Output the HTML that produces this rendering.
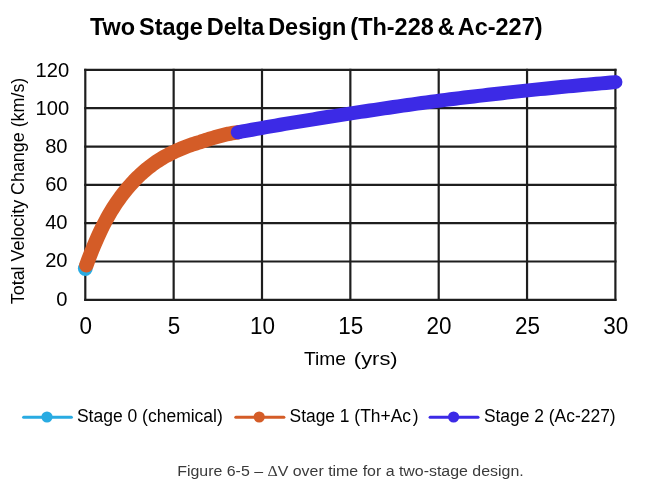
<!DOCTYPE html>
<html><head><meta charset="utf-8"><title>Two Stage Delta Design</title>
<style>
html,body{margin:0;padding:0;background:#fff;}
body{width:649px;height:490px;overflow:hidden;font-family:"Liberation Sans",sans-serif;}
svg{display:block;filter:blur(0.4px)}
text{font-family:"Liberation Sans",sans-serif;fill:#000;}
.yt{font-size:20.2px}
.xt{font-size:22.8px}
.lg{font-size:17.4px}
</style></head><body>
<svg width="649" height="490" viewBox="0 0 649 490">
<rect width="649" height="490" fill="#fff"/>
<text x="89.9" y="34.9" font-size="23.2" font-weight="bold" word-spacing="-2.5" textLength="452.6" lengthAdjust="spacingAndGlyphs">Two Stage Delta Design (Th-228 &amp; Ac-227)</text>
<g stroke="#1e1e1e" stroke-width="2.2" fill="none">
<line x1="85.30" y1="68.80" x2="85.30" y2="300.90"/>
<line x1="173.65" y1="68.80" x2="173.65" y2="300.90"/>
<line x1="262.00" y1="68.80" x2="262.00" y2="300.90"/>
<line x1="350.35" y1="68.80" x2="350.35" y2="300.90"/>
<line x1="438.70" y1="68.80" x2="438.70" y2="300.90"/>
<line x1="527.05" y1="68.80" x2="527.05" y2="300.90"/>
<line x1="615.40" y1="68.80" x2="615.40" y2="300.90"/>
<line x1="84.20" y1="299.80" x2="616.50" y2="299.80"/>
<line x1="84.20" y1="261.48" x2="616.50" y2="261.48"/>
<line x1="84.20" y1="223.17" x2="616.50" y2="223.17"/>
<line x1="84.20" y1="184.85" x2="616.50" y2="184.85"/>
<line x1="84.20" y1="146.53" x2="616.50" y2="146.53"/>
<line x1="84.20" y1="108.22" x2="616.50" y2="108.22"/>
<line x1="84.20" y1="69.90" x2="616.50" y2="69.90"/>
</g>
<g>
<text transform="translate(67.6,305.55) scale(0.97,1)" text-anchor="end" font-size="20.8">0</text>
<text transform="translate(67.6,267.42) scale(0.97,1)" text-anchor="end" font-size="20.8">20</text>
<text transform="translate(67.6,229.28) scale(0.97,1)" text-anchor="end" font-size="20.8">40</text>
<text transform="translate(67.6,191.15) scale(0.97,1)" text-anchor="end" font-size="20.8">60</text>
<text transform="translate(67.6,153.02) scale(0.97,1)" text-anchor="end" font-size="20.8">80</text>
<text transform="translate(69.2,114.88) scale(0.97,1)" text-anchor="end" font-size="20.8">100</text>
<text transform="translate(69.2,76.75) scale(0.97,1)" text-anchor="end" font-size="20.8">120</text>
</g>
<g>
<text transform="translate(85.70,334.0) scale(0.93,1)" text-anchor="middle" font-size="24.2">0</text>
<text transform="translate(174.05,334.0) scale(0.93,1)" text-anchor="middle" font-size="24.2">5</text>
<text transform="translate(262.40,334.0) scale(0.93,1)" text-anchor="middle" font-size="24.2">10</text>
<text transform="translate(350.75,334.0) scale(0.93,1)" text-anchor="middle" font-size="24.2">15</text>
<text transform="translate(439.10,334.0) scale(0.93,1)" text-anchor="middle" font-size="24.2">20</text>
<text transform="translate(527.45,334.0) scale(0.93,1)" text-anchor="middle" font-size="24.2">25</text>
<text transform="translate(615.80,334.0) scale(0.93,1)" text-anchor="middle" font-size="24.2">30</text>
</g>
<text id="ytitle" transform="translate(24.4,304.2) rotate(-90)" font-size="17.5" textLength="226.5" lengthAdjust="spacingAndGlyphs">Total Velocity Change (km/s)</text>
<text x="303.97" y="364.8" font-size="19.0" textLength="42.05" lengthAdjust="spacingAndGlyphs">Time</text>
<text x="353.83" y="364.8" font-size="19.0" textLength="43.82" lengthAdjust="spacingAndGlyphs">(yrs)</text>
<circle cx="85.30" cy="268.59" r="7.4" fill="#29abe2"/>
<path d="M86.36,265.23 L88.25,260.06 L90.15,255.10 L92.04,250.33 L93.93,245.75 L95.82,241.30 L97.72,237.01 L99.61,232.90 L101.50,228.94 L103.40,225.13 L105.29,221.49 L107.18,218.00 L109.07,214.66 L110.97,211.44 L112.86,208.35 L114.75,205.38 L116.65,202.53 L118.54,199.79 L120.43,197.16 L122.33,194.64 L124.22,192.21 L126.11,189.88 L128.00,187.64 L129.90,185.50 L131.79,183.40 L133.68,181.32 L135.58,179.33 L137.47,177.41 L139.36,175.57 L141.25,173.79 L143.15,172.08 L145.04,170.44 L146.93,168.86 L148.83,167.35 L150.72,165.89 L152.61,164.48 L154.50,163.13 L156.40,161.83 L158.29,160.58 L160.18,159.38 L162.08,158.23 L163.97,157.12 L165.86,156.05 L167.75,155.02 L169.65,154.03 L171.54,153.09 L173.43,152.17 L175.33,151.27 L177.22,150.39 L179.11,149.55 L181.01,148.74 L182.90,147.96 L184.79,147.21 L186.68,146.49 L188.58,145.79 L190.47,145.12 L192.36,144.48 L194.26,143.85 L196.15,143.25 L198.04,142.68 L199.93,142.11 L201.83,141.45 L203.72,140.81 L205.61,140.19 L207.51,139.59 L209.40,139.00 L211.29,138.43 L213.18,137.88 L215.08,137.34 L216.97,136.82 L218.86,136.31 L220.76,135.80 L222.65,135.30 L224.54,134.81 L226.43,134.33 L228.33,133.87 L230.22,133.53 L232.11,133.22 L234.01,132.91 L235.90,132.62 L237.79,132.33" fill="none" stroke="#d45c27" stroke-width="14.5" stroke-linecap="round" stroke-linejoin="round"/>
<path d="M237.79,132.33 L242.51,131.46 L247.23,130.60 L251.95,129.75 L256.67,128.90 L261.39,128.06 L266.11,127.23 L270.83,126.40 L275.55,125.58 L280.27,124.77 L284.99,123.97 L289.71,123.17 L294.43,122.38 L299.15,121.60 L303.87,120.82 L308.59,120.05 L313.31,119.29 L318.03,118.53 L322.75,117.78 L327.47,117.03 L332.19,116.30 L336.91,115.57 L341.63,114.84 L346.35,114.12 L351.07,113.40 L355.79,112.67 L360.51,111.94 L365.23,111.22 L369.95,110.51 L374.67,109.80 L379.40,109.09 L384.12,108.39 L388.84,107.70 L393.56,107.01 L398.28,106.33 L403.00,105.66 L407.72,104.99 L412.44,104.32 L417.16,103.67 L421.88,103.01 L426.60,102.36 L431.32,101.72 L436.04,101.08 L440.76,100.47 L445.48,99.88 L450.20,99.29 L454.92,98.71 L459.64,98.14 L464.36,97.57 L469.08,97.00 L473.80,96.44 L478.52,95.88 L483.24,95.33 L487.96,94.79 L492.68,94.25 L497.40,93.71 L502.12,93.18 L506.84,92.65 L511.56,92.13 L516.28,91.61 L521.00,91.10 L525.72,90.59 L530.44,90.10 L535.16,89.62 L539.88,89.15 L544.60,88.68 L549.32,88.21 L554.04,87.75 L558.76,87.29 L563.48,86.84 L568.20,86.39 L572.92,85.94 L577.64,85.50 L582.36,85.07 L587.08,84.63 L591.80,84.20 L596.52,83.78 L601.24,83.36 L605.96,82.94 L610.68,82.53 L615.40,82.12" fill="none" stroke="#3c2ae6" stroke-width="14" stroke-linecap="round" stroke-linejoin="round"/>
<g>
<line x1="23.6" y1="417.2" x2="71.4" y2="417.2" stroke="#29abe2" stroke-width="3" stroke-linecap="round"/>
<circle cx="47.0" cy="417.0" r="5.6" fill="#29abe2"/>
<text x="76.91" y="422.2" font-size="17.6" textLength="145.93" lengthAdjust="spacingAndGlyphs">Stage 0 (chemical)</text>
<line x1="235.8" y1="417.2" x2="283.9" y2="417.2" stroke="#d45c27" stroke-width="3" stroke-linecap="round"/>
<circle cx="259.2" cy="417.0" r="5.6" fill="#d45c27"/>
<text x="289.52" y="422.2" font-size="17.6" textLength="121.44" lengthAdjust="spacingAndGlyphs">Stage 1 (Th+Ac</text><text x="412.77" y="422.2" font-size="17.6" textLength="5.78" lengthAdjust="spacingAndGlyphs">)</text>
<line x1="430.1" y1="417.2" x2="478.0" y2="417.2" stroke="#3c2ae6" stroke-width="3" stroke-linecap="round"/>
<circle cx="453.6" cy="417.0" r="5.6" fill="#3c2ae6"/>
<text x="483.92" y="422.2" font-size="17.6" textLength="131.73" lengthAdjust="spacingAndGlyphs">Stage 2 (Ac-227)</text>
</g>
<text id="cap" x="177.2" y="476" font-size="13.8" fill="#3a3a3a" style="fill:#3a3a3a" textLength="346.5" lengthAdjust="spacingAndGlyphs">Figure 6-5 – <tspan font-family="Liberation Serif" style="font-family:'Liberation Serif',serif">Δ</tspan>V over time for a two-stage design.</text>
</svg>
</body></html>
